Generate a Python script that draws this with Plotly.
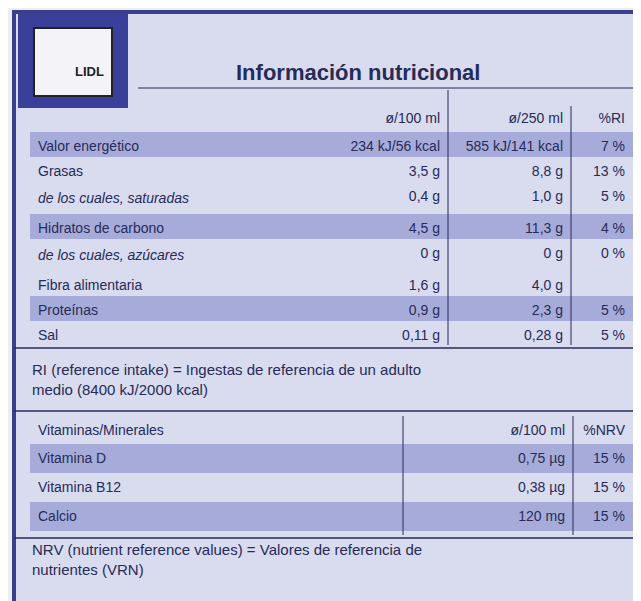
import plotly.graph_objects as go

# main nutrition table
nutrientes = ["Valor energético", "Grasas", "<i>de los cuales, saturadas</i>",
              "Hidratos de carbono", "<i>de los cuales, azúcares</i>",
              "Fibra alimentaria", "Proteínas", "Sal"]
por_100ml = ["234 kJ/56 kcal", "3,5 g", "0,4 g", "4,5 g", "0 g", "1,6 g", "0,9 g", "0,11 g"]
por_250ml = ["585 kJ/141 kcal", "8,8 g", "1,0 g", "11,3 g", "0 g", "4,0 g", "2,3 g", "0,28 g"]
pct_ri = ["7 %", "13 %", "5 %", "4 %", "0 %", "", "5 %", "5 %"]

# vitamins table
vitaminas = ["Vitamina D", "Vitamina B12", "Calcio"]
vit_100ml = ["0,75 µg", "0,38 µg", "120 mg"]
pct_nrv = ["15 %", "15 %", "15 %"]

BG = "#d9dbef"
STRIPE = "#a7abda"
INK = "#262b58"
FONT = "Liberation Sans, Arial, sans-serif"
W, H = 641, 601

def py(p):
    return 1 - p / H

main_fill = [STRIPE if i in (0, 3, 6) else BG for i in range(len(nutrientes))]
vit_fill = [STRIPE if i in (0, 2) else BG for i in range(len(vitaminas))]

fig = go.Figure()
fig.add_trace(go.Table(
    domain=dict(x=[22 / W, 625 / W], y=[py(338), py(96)]),
    columnwidth=[300, 118, 123, 62],
    header=dict(values=["", "ø/100 ml", "ø/250 ml", "%RI"],
                align=["left", "right", "right", "right"],
                fill_color=BG, line_width=0, height=28,
                font=dict(family=FONT, size=14, color=INK)),
    cells=dict(values=[nutrientes, por_100ml, por_250ml, pct_ri],
               align=["left", "right", "right", "right"],
               fill_color=[main_fill] * 4, line_width=0, height=25,
               font=dict(family=FONT, size=14, color=INK)),
))
fig.add_trace(go.Table(
    domain=dict(x=[22 / W, 625 / W], y=[py(527), py(408)]),
    columnwidth=[373, 170, 60],
    header=dict(values=["Vitaminas/Minerales", "ø/100 ml", "%NRV"],
                align=["left", "right", "right"],
                fill_color=BG, line_width=0, height=28,
                font=dict(family=FONT, size=14, color=INK)),
    cells=dict(values=[vitaminas, vit_100ml, pct_nrv],
               align=["left", "right", "right"],
               fill_color=[vit_fill] * 3, line_width=0, height=29,
               font=dict(family=FONT, size=14, color=INK)),
))

# frame and separators
shapes = [
    dict(type="rect", x0=6 / W, x1=636 / W, y0=py(596), y1=py(4),
         line=dict(color="#3a3f8c", width=4), fillcolor=BG, layer="below"),
    dict(type="line", x0=6 / W, x1=636 / W, y0=py(340), y1=py(340), line=dict(color=INK, width=1.5)),
    dict(type="line", x0=6 / W, x1=636 / W, y0=py(403), y1=py(403), line=dict(color=INK, width=1.5)),
    dict(type="line", x0=6 / W, x1=636 / W, y0=py(530), y1=py(530), line=dict(color=INK, width=1.5)),
    dict(type="line", x0=440 / W, x1=440 / W, y0=py(337), y1=py(82), line=dict(color=INK, width=1)),
    dict(type="line", x0=563 / W, x1=563 / W, y0=py(337), y1=py(98), line=dict(color=INK, width=1)),
    dict(type="line", x0=395 / W, x1=395 / W, y0=py(527), y1=py(408), line=dict(color=INK, width=1)),
    dict(type="line", x0=565 / W, x1=565 / W, y0=py(527), y1=py(408), line=dict(color=INK, width=1)),
    dict(type="line", x0=130 / W, x1=636 / W, y0=py(80), y1=py(80), line=dict(color=INK, width=1)),
    # logo
    dict(type="rect", x0=10 / W, x1=120 / W, y0=py(100), y1=py(6),
         fillcolor="#3a3f9a", line_width=0),
    dict(type="rect", x0=26 / W, x1=104 / W, y0=py(88), y1=py(20),
         fillcolor="#f4f4f8", line=dict(color="#222", width=2)),
]
fig.update_layout(shapes=shapes)

ann = [
    dict(x=350 / W, y=py(50), text="<b>Información nutricional</b>", showarrow=False,
         font=dict(family=FONT, size=22, color=INK)),
    dict(x=65 / W, y=py(54), text="<b>LIDL</b>", showarrow=False,
         font=dict(family=FONT, size=13, color="#222")),
    dict(x=22 / W, y=py(371), xanchor="left", align="left", showarrow=False,
         text="RI (reference intake) = Ingestas de referencia de un adulto<br>medio (8400 kJ/2000 kcal)",
         font=dict(family=FONT, size=15, color=INK)),
    dict(x=22 / W, y=py(572), xanchor="left", align="left", showarrow=False,
         text="NRV (nutrient reference values) = Valores de referencia de<br>nutrientes (VRN)",
         font=dict(family=FONT, size=15, color=INK)),
]
fig.update_layout(annotations=ann, width=W, height=H,
                  margin=dict(l=0, r=0, t=0, b=0),
                  paper_bgcolor="#eceef2", plot_bgcolor="#eceef2")
fig.write_html("out.html")
